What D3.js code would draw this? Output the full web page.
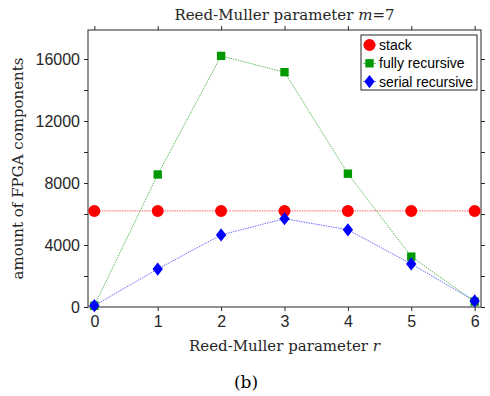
<!DOCTYPE html>
<html>
<head>
<meta charset="utf-8">
<script src="https://cdn.jsdelivr.net/npm/d3@7"></script>
<style>
  body { margin: 0; background: #fff; }
  svg { display: block; }
</style>
</head>
<body>
<svg id="chart" width="490" height="396"></svg>
<script>
// values
var rValues = [0, 1, 2, 3, 4, 5, 6];
var stack = [6200, 6200, 6200, 6200, 6200, 6200, 6200];
var fullyRecursive = [80, 8550, 16200, 15150, 8600, 3250, 350];
var serialRecursive = [90, 2450, 4650, 5700, 4980, 2780, 390];
var yTickLabels = [0, 4000, 8000, 12000, 16000];
var yMinorTicks = [2000, 6000, 10000, 14000];
var seriesNames = ["stack", "fully recursive", "serial recursive"];

// matlab style diamond, a bit wider than d3's one
var wideDiamond = {
  draw: function(ctx, size){
    var h = Math.sqrt(size) * 0.72, w = h * 0.78;
    ctx.moveTo(0, -h); ctx.lineTo(w, 0); ctx.lineTo(0, h); ctx.lineTo(-w, 0); ctx.closePath();
  }
};

function draw(){
  var svg = d3.select("#chart");
  var pLeft = 88, pRight = 481, pTop = 30, pBottom = 307;
  var axisColor = "#262626";

  var x = d3.scaleLinear().domain([-0.1, 6.1]).range([pLeft, pRight]);
  var y = d3.scaleLinear().domain([0, 17870]).range([pBottom, pTop]);

  // box
  svg.append("rect")
     .attr("x", pLeft).attr("y", pTop)
     .attr("width", pRight - pLeft).attr("height", pBottom - pTop)
     .attr("fill", "none").attr("stroke", axisColor).attr("stroke-width", 1);

  function styleAxis(g){
    g.select(".domain").remove();
    g.selectAll(".tick line").attr("stroke", axisColor);
    g.selectAll(".tick text").attr("fill", axisColor)
     .attr("font-family", "Liberation Sans, Arial, sans-serif").attr("font-size", 16);
  }

  // bottom and top axes
  svg.append("g").attr("transform", "translate(0," + pBottom + ")")
     .call(d3.axisBottom(x).tickValues(rValues).tickSize(4).tickPadding(5).tickFormat(d3.format("d")))
     .call(styleAxis);
  svg.append("g").attr("transform", "translate(0," + pTop + ")")
     .call(d3.axisTop(x).tickValues(rValues).tickSize(4).tickFormat(""))
     .call(styleAxis);

  // left and right axes
  svg.append("g").attr("transform", "translate(" + pLeft + ",0)")
     .call(d3.axisLeft(y).tickValues(yTickLabels).tickSize(4).tickPadding(4).tickFormat(d3.format("d")))
     .call(styleAxis);
  svg.append("g").attr("transform", "translate(" + pLeft + ",0)")
     .call(d3.axisLeft(y).tickValues(yMinorTicks).tickSize(4).tickFormat(""))
     .call(styleAxis);
  svg.append("g").attr("transform", "translate(" + pRight + ",0)")
     .call(d3.axisRight(y).tickValues(yTickLabels.concat(yMinorTicks)).tickSize(4).tickFormat(""))
     .call(styleAxis);

  // lines
  var line = d3.line().x(function(d, i){ return x(rValues[i]); }).y(function(d){ return y(d); });
  var series = [
    {name: seriesNames[0], values: stack, color: "#ff0000", lineColor: "#ff3333", shape: d3.symbolCircle, size: 113},
    {name: seriesNames[1], values: fullyRecursive, color: "#009900", lineColor: "#33aa33", shape: d3.symbolSquare, size: 70},
    {name: seriesNames[2], values: serialRecursive, color: "#0000ff", lineColor: "#4444ff", shape: wideDiamond, size: 85}
  ];

  series.forEach(function(s){
    svg.append("path").datum(s.values)
       .attr("d", line).attr("fill", "none")
       .attr("stroke", s.lineColor).attr("stroke-width", 0.8)
       .attr("stroke-dasharray", "1.5,1");
  });
  series.forEach(function(s){
    svg.append("g").selectAll("path").data(s.values).enter()
       .append("path")
       .attr("transform", function(d, i){ return "translate(" + x(rValues[i]) + "," + y(d) + ")"; })
       .attr("d", d3.symbol().type(s.shape).size(s.size))
       .attr("fill", s.color);
  });

  // legend
  var lg = svg.append("g");
  lg.append("rect").attr("x", 361).attr("y", 35).attr("width", 116).attr("height", 55)
    .attr("fill", "#fff").attr("stroke", axisColor).attr("stroke-width", 1);
  series.forEach(function(s, i){
    var ly = 45 + i * 18.3;
    lg.append("line").attr("x1", 363).attr("x2", 376).attr("y1", ly).attr("y2", ly)
      .attr("stroke", s.lineColor).attr("stroke-width", 0.8);
    lg.append("path").attr("transform", "translate(369.5," + ly + ")")
      .attr("d", d3.symbol().type(s.shape).size(s.size)).attr("fill", s.color);
    lg.append("text").attr("x", 379).attr("y", ly + 5).text(s.name)
      .attr("font-family", "Liberation Sans, Arial, sans-serif").attr("font-size", 14).attr("fill", "#000");
  });

  // texts
  var serif = "DejaVu Serif, serif";
  var title = svg.append("text").attr("x", (pLeft + pRight) / 2).attr("y", 20)
     .attr("text-anchor", "middle").attr("font-family", serif).attr("font-size", 15).attr("fill", "#262626");
  title.append("tspan").text("Reed-Muller parameter ");
  title.append("tspan").attr("font-style", "italic").text("m");
  title.append("tspan").text("=7");

  var xl = svg.append("text").attr("x", (pLeft + pRight) / 2).attr("y", 351)
     .attr("text-anchor", "middle").attr("font-family", serif).attr("font-size", 15).attr("fill", "#262626");
  xl.append("tspan").text("Reed-Muller parameter ");
  xl.append("tspan").attr("font-style", "italic").text("r");

  svg.append("text").attr("transform", "translate(23," + ((pTop + pBottom) / 2) + ") rotate(-90)")
     .attr("text-anchor", "middle").attr("font-family", serif).attr("font-size", 15).attr("fill", "#262626")
     .text("amount of FPGA components");

  svg.append("text").attr("x", 246).attr("y", 388).attr("text-anchor", "middle")
     .attr("font-family", serif).attr("font-size", 17).attr("fill", "#000").text("(b)");
}

draw();
</script>
</body>
</html>
